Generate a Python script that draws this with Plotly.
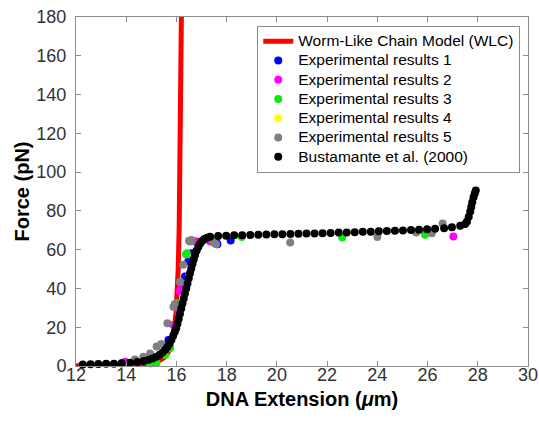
import plotly.graph_objects as go

# ---- data ----
wlc_x = [12.0, 13.0, 14.0, 14.6, 15.0, 15.3, 15.5, 15.65, 15.76, 15.85, 15.92, 15.98, 16.03, 16.07, 16.11, 16.14, 16.17, 16.2]
wlc_f = [0.1, 0.2, 0.4, 0.8, 1.5, 2.6, 4.2, 6.5, 10, 15, 20, 27, 36, 50, 72, 100, 140, 185]

exp1_x = [13.82, 15.68, 16.34, 16.47, 16.6, 17.6, 17.63, 18.16]
exp1_f = [1.4, 13.4, 46.1, 53.9, 58.2, 63.4, 62.8, 64.7]

exp2_x = [13.96, 15.01, 15.61, 15.88, 16.07, 16.14, 16.2, 16.74, 16.8, 16.94, 17.34, 27.03]
exp2_f = [2.2, 1.4, 10.0, 21.2, 28.9, 38.4, 40.1, 64.2, 64.2, 63.7, 64.2, 66.8]

exp3_x = [14.88, 14.95, 15.08, 15.21, 15.55, 15.75, 16.01, 16.38, 16.41, 17.47, 18.6, 22.6, 25.9]
exp3_f = [2.2, 1.4, 3.1, 1.7, 5.7, 9.1, 32.4, 57.7, 58.2, 64.2, 66.5, 66.3, 67.7]

exp4_x = [15.5, 16.3, 16.5, 16.7]
exp4_f = [7.5, 35.0, 46.0, 56.5]

exp5_x = [14.35, 14.68, 14.95, 15.21, 15.39, 15.64, 15.88, 15.94, 16.14, 16.27, 16.5, 16.54, 16.6, 17.5, 17.58, 20.53, 24.0, 25.55, 26.17, 26.6]
exp5_f = [3.4, 4.8, 6.5, 10.0, 11.4, 22.0, 30.6, 32.0, 43.5, 52.2, 64.6, 64.2, 65.0, 63.4, 62.8, 63.7, 66.5, 68.9, 68.5, 73.5]

bus_x = [12.27, 12.58, 12.89, 13.2, 13.51, 13.82, 14.15, 14.44, 14.7, 14.9, 15.05, 15.2, 15.33, 15.45,
         15.55, 15.64, 15.72, 15.8, 15.87, 15.93, 15.99, 16.04, 16.09, 16.14, 16.19, 16.24, 16.29, 16.34,
         16.39, 16.44, 16.49, 16.54, 16.59, 16.64, 16.69, 16.74, 16.8, 16.87, 16.94, 17.02, 17.11, 17.22,
         17.34, 17.66, 17.98, 18.3, 18.62, 18.94, 19.26, 19.58, 19.9, 20.22, 20.54, 20.86, 21.18, 21.5,
         21.82, 22.14, 22.46, 22.78, 23.1, 23.42, 23.74, 24.06, 24.38, 24.7, 25.02, 25.34, 25.66, 25.98,
         26.3, 26.66, 26.97, 27.3, 27.5, 27.57, 27.64, 27.7, 27.74, 27.78, 27.83, 27.88, 27.92]
bus_f = [0.8, 0.9, 1.0, 1.1, 1.2, 1.4, 1.7, 2.0, 2.6, 3.2, 3.9, 4.8, 5.8, 7.0,
         8.3, 9.8, 11.5, 13.5, 15.6, 17.6, 19.5, 21.8, 24.3, 27.0, 29.6, 32.2, 34.8, 37.4,
         40.0, 42.6, 45.2, 47.8, 50.3, 52.7, 55.0, 57.2, 59.4, 61.4, 63.1, 64.5, 65.5, 66.2,
         66.7, 67.0, 67.2, 67.4, 67.5, 67.6, 67.7, 67.8, 67.9, 68.0, 68.1, 68.2, 68.3, 68.4,
         68.5, 68.6, 68.8, 68.9, 69.0, 69.2, 69.3, 69.5, 69.6, 69.8, 69.9, 70.1, 70.3, 70.5,
         70.8, 71.1, 71.6, 72.3, 73.3, 74.5, 77.0, 79.7, 82.0, 84.5, 87.0, 89.0, 90.5]

names = ["Worm-Like Chain Model (WLC)", "Experimental results 1", "Experimental results 2",
         "Experimental results 3", "Experimental results 4", "Experimental results 5",
         "Bustamante et al. (2000)"]
colors = ["#ff0000", "#0000ff", "#ff00ff", "#14e614", "#ffff00", "#808080", "#000000"]

x_ticks = [12, 14, 16, 18, 20, 22, 24, 26, 28, 30]
y_ticks = [0, 20, 40, 60, 80, 100, 120, 140, 160, 180]


def legend_label(s):
    return '<span style="font-size:15.5px">' + s + '</span>'


fig = go.Figure()
fig.add_trace(go.Scatter(x=wlc_x, y=wlc_f, mode="lines", name=legend_label(names[0]),
                         line=dict(color=colors[0], width=5), cliponaxis=True))
series = [(exp1_x, exp1_f), (exp2_x, exp2_f), (exp3_x, exp3_f), (exp4_x, exp4_f),
          (exp5_x, exp5_f), (bus_x, bus_f)]
for i, (sx, sf) in enumerate(series):
    fig.add_trace(go.Scatter(x=sx, y=sf, mode="markers", name=legend_label(names[i + 1]),
                             marker=dict(color=colors[i + 1], size=8, line=dict(width=0)),
                             cliponaxis=False))

axis_common = dict(showline=True, linecolor="#8c8c8c", linewidth=1, mirror="ticks",
                   ticks="inside", ticklen=5, tickcolor="#8c8c8c", showgrid=False,
                   zeroline=False, automargin=False,
                   tickfont=dict(family="Liberation Sans", size=18, color="#333333"))

fig.update_xaxes(range=[12, 30], tickvals=x_ticks, ticktext=[str(v) for v in x_ticks],
                 title=dict(text="<b>DNA Extension (<i>μ</i>m)</b>",
                            font=dict(family="Liberation Sans", size=20, color="#000000"),
                            standoff=8),
                 ticklabelstandoff=-8, **axis_common)
fig.update_yaxes(range=[0, 180], tickvals=y_ticks, ticktext=[str(v) for v in y_ticks],
                 title=dict(text="<b>Force (pN)</b>",
                            font=dict(family="Liberation Sans", size=20, color="#000000"),
                            standoff=1),
                 ticklabelstandoff=5, **axis_common)

fig.update_layout(
    width=539, height=422,
    margin=dict(l=76, r=11, t=17, b=56),
    paper_bgcolor="white", plot_bgcolor="white",
    font=dict(family="Liberation Sans", color="#000000"),
    legend=dict(x=0.401, y=0.975, xanchor="left", yanchor="top",
                bgcolor="white", bordercolor="#8c8c8c", borderwidth=1,
                font=dict(family="Liberation Sans", size=12.5, color="#000000"),
                tracegroupgap=0, itemsizing="trace"),
    showlegend=True,
)

fig.write_html("out.html")
